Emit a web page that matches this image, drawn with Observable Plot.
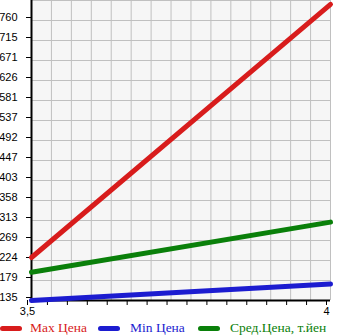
<!DOCTYPE html>
<html>
<head>
<meta charset="utf-8">
<script src="https://cdn.jsdelivr.net/npm/d3@7"></script>
<script src="https://cdn.jsdelivr.net/npm/@observablehq/plot@0.6"></script>
<style>
  body { margin: 0; background: #fff; overflow: hidden; }
  #wrap { position: relative; width: 345px; height: 335px; overflow: hidden; }
  #chart svg { display: block; }
  #legend { position: absolute; left: 0; top: 318px; width: 345px; height: 17px;
            font-family: "Liberation Serif", serif; font-size: 13.5px; }
  .sw { position: absolute; top: 8px; height: 5px; width: 22px; border-radius: 3px; }
  .lab { position: absolute; top: 1px; line-height: 17px; }
</style>
</head>
<body>
<div id="wrap"><div id="chart"></div><div id="legend"></div></div>
<script>
const xValues = [3.5, 4];
const maxPrice = [231, 796];
const minPrice = [135, 172];
const avgPrice = [198, 310];
const seriesNames = ["Max Цена", "Min Цена", "Сред.Цена, т.йен"];
const yTickLabels = [135, 179, 224, 269, 313, 358, 403, 447, 492, 537, 581, 626, 671, 715, 760];
const xTickLabels = ["3,5", "4"];

const colors = ["#d81c1c", "#1c1cd0", "#0a800a"];
const series = [maxPrice, minPrice, avgPrice];
const data = [];
series.forEach((vals, s) => vals.forEach((v, i) => data.push({x: xValues[i], y: v, s: seriesNames[s]})));

const y0 = yTickLabels[0];
const yStep = (yTickLabels[yTickLabels.length - 1] - y0) / (yTickLabels.length - 1);
const yTicks = yTickLabels.map((d, i) => y0 + i * yStep);
const yTop = y0 + yTickLabels.length * yStep;

const xStep = (xValues[1] - xValues[0]) / 15;
const xTicks = d3.range(16).map(i => xValues[0] + i * xStep);
const xFmt = (d, i) => i === 0 ? xTickLabels[0] : (i === xTicks.length - 1 ? xTickLabels[1] : "");

const chart = Plot.plot({
  width: 345,
  height: 318,
  marginLeft: 31,
  marginRight: 15,
  marginTop: 0,
  marginBottom: 18,
  style: {fontFamily: "Liberation Sans, sans-serif", fontSize: "11px", background: "#fff"},
  x: {domain: [xValues[0], xValues[1]], range: [31, 330], label: null, axis: null},
  y: {domain: [y0, yTop], range: [300, 0], label: null, axis: null},
  color: {domain: seriesNames, range: colors},
  marks: [
    Plot.frame({fill: "#f6f6f6", stroke: null}),
    Plot.gridX(xTicks, {stroke: "#c0c0c0", strokeOpacity: 1}),
    Plot.gridY(yTicks.concat([yTop]), {stroke: "#c0c0c0", strokeOpacity: 1}),
    Plot.axisY(yTicks, {tickSize: 5, tickPadding: 9, tickFormat: (d, i) => String(yTickLabels[i]), dy: -3, label: null, fill: "#000"}),
    Plot.axisX(xTicks, {tickSize: 5, tickPadding: 2, tickFormat: xFmt, dx: -4, label: null, fill: "#000"}),
    Plot.ruleX([xValues[0]], {stroke: "#000", strokeWidth: 2}),
    Plot.ruleY([y0], {stroke: "#000", strokeWidth: 2}),
    Plot.line(data, {x: "x", y: "y", z: "s", stroke: "s", strokeWidth: 5, strokeLinecap: "round"})
  ]
});
document.getElementById("chart").appendChild(chart);

const legendX = [[0, 30], [98, 130], [198, 230]];
const legend = document.getElementById("legend");
seriesNames.forEach((name, i) => {
  const sw = document.createElement("div");
  sw.className = "sw";
  sw.style.left = legendX[i][0] + "px";
  sw.style.background = colors[i];
  legend.appendChild(sw);
  const lab = document.createElement("div");
  lab.className = "lab";
  lab.style.left = legendX[i][1] + "px";
  lab.style.color = colors[i];
  lab.textContent = name;
  legend.appendChild(lab);
});
</script>
</body>
</html>
